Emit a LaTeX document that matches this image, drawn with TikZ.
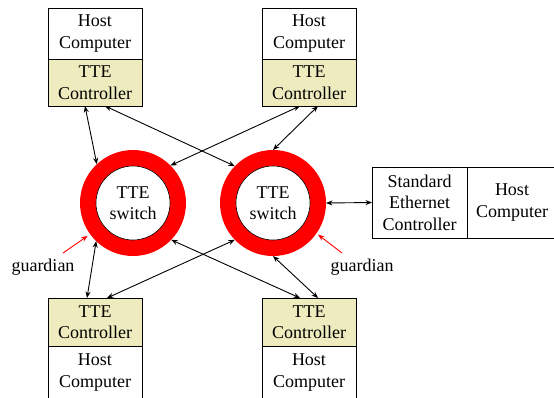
\documentclass[tikz,border=0pt]{standalone}
\usepackage{fontspec}
\setmainfont{Liberation Serif}
\usetikzlibrary{arrows.meta}
\definecolor{ctrlfill}{RGB}{238,236,190}
\tikzset{
  unit/.style={draw=black, line width=0.8pt, rectangle, inner sep=0pt, outer sep=0pt,
    align=center, font=\fontsize{18}{21.5}\selectfont},
  hostbox/.style={unit, fill=white, minimum width=94pt, minimum height=51pt},
  ctrlbox/.style={unit, fill=ctrlfill, minimum width=94pt, minimum height=47pt},
  ringout/.style={circle, fill=red, minimum size=106pt, inner sep=0pt, outer sep=0pt},
  ringin/.style={circle, fill=white, draw=black, line width=0.6pt, minimum size=74pt,
    inner sep=0pt, align=center, font=\fontsize{18}{21.5}\selectfont},
  link/.style={{Stealth[length=6.5pt,width=5pt]}-{Stealth[length=6.5pt,width=5pt]}, line width=0.9pt, black},
  guard/.style={-{Stealth[length=6.5pt,width=5pt]}, line width=0.9pt, red},
  lbl/.style={font=\fontsize{18}{21.5}\selectfont, inner sep=0pt}
}
\begin{document}
\begin{tikzpicture}[x=1pt, y=-1pt]
\useasboundingbox (0,0) rectangle (554,397);

% end stations at the top
\node[hostbox] (tlh) at (95,33.5) {Host\\Computer};
\node[ctrlbox] (tlc) at (95,82.5) {TTE\\Controller};
\node[hostbox] (trh) at (309,33.5) {Host\\Computer};
\node[ctrlbox] (trc) at (309,82.5) {TTE\\Controller};

% end stations at the bottom
\node[ctrlbox, minimum height=48pt] (blc) at (95,322) {TTE\\Controller};
\node[hostbox, minimum height=53pt] (blh) at (95,372.5) {Host\\Computer};
\node[ctrlbox, minimum height=48pt] (brc) at (309,322) {TTE\\Controller};
\node[hostbox, minimum height=53pt] (brh) at (309,372.5) {Host\\Computer};

% switches with their guardian rings
\node[ringout] (sw1) at (133,203) {};
\node[ringin] (sw1in) at (133,203) {TTE\\switch};
\node[ringout] (sw2) at (273,203) {};
\node[ringin] (sw2in) at (273,203) {TTE\\switch};

% standard Ethernet station
\node[unit, fill=white, minimum width=95pt, minimum height=71pt] (ec) at (419.5,202.5) {Standard\\Ethernet\\Controller};
\node[unit, fill=white, minimum width=90pt, minimum height=71pt] (eh) at (512,202.5) {Host\\Computer};

% links between controllers and switches
\draw[link] ([xshift=-10pt]tlc.south) -- (sw1.133);
\draw[link] ([xshift=10pt]tlc.south) -- (sw2.136);
\draw[link] ([xshift=-9pt]trc.south) -- (sw1.45);
\draw[link] ([xshift=9pt]trc.south) -- (sw2.90);

\draw[link] ([xshift=-8pt]blc.north) -- (sw1.226);
\draw[link] ([xshift=12pt]blc.north) -- (sw2.224);
\draw[link] ([xshift=-9pt]brc.north) -- (sw1.316);
\draw[link] ([xshift=9pt]brc.north) -- (sw2.270);

\draw[link] (sw2.east) -- (ec.west);

% guardian labels
\node[lbl] (g1) at (43,267) {guardian};
\node[lbl] (g2) at (362,267) {guardian};
\coordinate (g1t) at (63,253);
\coordinate (g2t) at (342,253);
\draw[guard, shorten >=3pt] (g1t) -- (sw1.216);
\draw[guard, shorten >=2pt] (g2t) -- (sw2.-35);
\end{tikzpicture}
\end{document}
